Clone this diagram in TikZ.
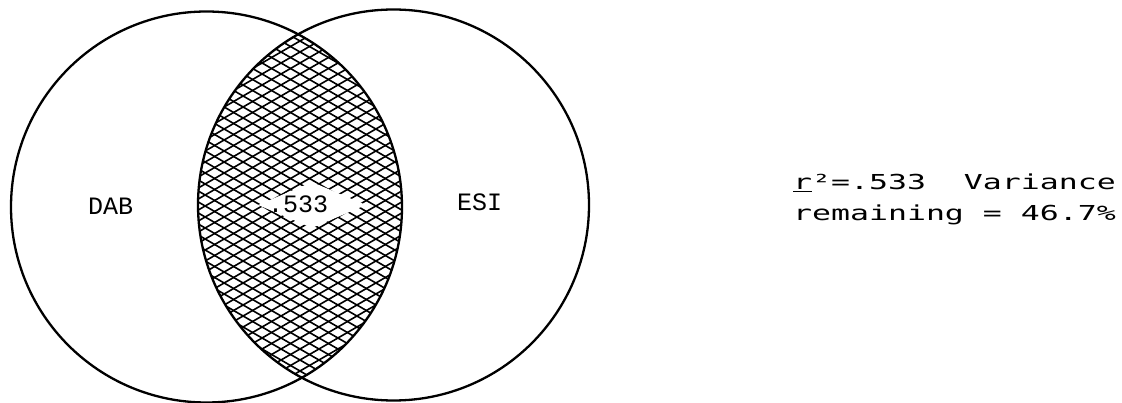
\documentclass[tikz,border=0pt]{standalone}
\usepackage{fontspec}
\usetikzlibrary{shapes.geometric}
\newfontfamily\twfont{Liberation Mono}
\newfontfamily\rtfont[FakeStretch=1.53]{DejaVu Sans Mono}
\tikzset{
  ring/.style={circle, draw=black, line width=2.3pt, minimum size=391pt, inner sep=0pt},
  hatchline/.style={line width=1.6pt, black},
  twlabel/.style={font={\twfont\fontsize{25}{30}\selectfont}, inner sep=0pt, anchor=base west},
  rtlabel/.style={font={\rtfont\fontsize{20.6}{31}\selectfont}, inner sep=0pt, anchor=base west},
  hole/.style={diamond, fill=white, inner sep=0pt, minimum width=108pt, minimum height=46pt}
}
\begin{document}
\begin{tikzpicture}[x=1pt,y=-1pt]
\useasboundingbox (0,0) rectangle (1122,403);
\coordinate (cl) at (206.5,207);
\coordinate (cr) at (393.5,205);
% hatching of the overlap
\begin{scope}
  \clip (cl) circle (195.5);
  \clip (cr) circle (195.5);
  \foreach \k in {-24,...,24}{
    \draw[hatchline] (180,{206+\k*11-0.58*120}) -- (420,{206+\k*11+0.58*120});
    \draw[hatchline] (180,{206+\k*11+0.58*120}) -- (420,{206+\k*11-0.58*120});
  }
\end{scope}
\node[hole] (gap) at (312,205) {};
\node[ring] (L) at (cl) {};
\node[ring] (R) at (cr) {};
\node[twlabel] (dab) at (88,215) {DAB};
\node[twlabel] (esi) at (457,211) {ESI};
\node[twlabel] (val) at (268,213) {.533};
\node[rtlabel] (r1) at (793,190) {\underline{r}²=.533\ \ Variance};
\node[rtlabel] (r2) at (793,221) {remaining = 46.7\%};
\end{tikzpicture}
\end{document}
